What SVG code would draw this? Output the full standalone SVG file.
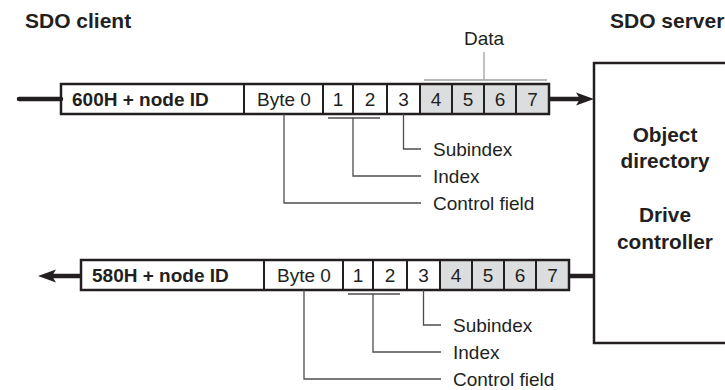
<svg xmlns="http://www.w3.org/2000/svg" width="725" height="390" viewBox="0 0 725 390">
<style>
.b{font-family:"Liberation Sans",Arial,sans-serif;font-weight:bold;font-size:19px;fill:#231f20}
.h{font-size:21px}
.s{font-size:20.8px}
.r{font-family:"Liberation Sans",Arial,sans-serif;font-size:19px;fill:#231f20}
.m{text-anchor:middle}
.frame{fill:none;stroke:#231f20;stroke-width:2.5}
.div{stroke:#231f20;stroke-width:2}
.data{fill:#dcdddf}
.call{fill:none;stroke:#4d4d4d;stroke-width:1.3}
.bus{fill:none;stroke:#231f20;stroke-width:4.5}
.head{fill:#231f20}
</style>
<rect width="725" height="390" fill="#ffffff"/>
<g id="client-label"><text class="b h" x="25" y="28">SDO client</text></g>
<g id="server-label"><text class="b h" x="610" y="28">SDO server</text></g>
<g id="server">
<path class="frame" d="M730 63H594V343H730"/>
<text class="b s m" x="665" y="142">Object</text>
<text class="b s m" x="665" y="168">directory</text>
<text class="b s m" x="665" y="222">Drive</text>
<text class="b s m" x="665" y="249">controller</text>
</g>
<g id="request-frame">
<rect class="data" x="420" y="84" width="129" height="30"/>
<rect class="frame" x="61" y="84" width="488" height="30"/>
<path class="div" d="M244 84V114M323 84V114M353 84V114M387 84V114M420 84V114M452 84V114M484 84V114M516 84V114"/>
<text class="b" x="72" y="106">600H + node ID</text>
<text class="r m" x="284" y="106">Byte 0</text>
<text class="r m" x="338" y="106">1</text>
<text class="r m" x="370" y="106">2</text>
<text class="r m" x="403.5" y="106">3</text>
<text class="r m" x="436" y="106">4</text>
<text class="r m" x="468" y="106">5</text>
<text class="r m" x="500" y="106">6</text>
<text class="r m" x="532.5" y="106">7</text>
</g>
<g id="response-frame">
<rect class="data" x="440" y="260" width="129" height="30"/>
<rect class="frame" x="81" y="260" width="488" height="30"/>
<path class="div" d="M264 260V290M343 260V290M373 260V290M407 260V290M440 260V290M472 260V290M504 260V290M536 260V290"/>
<text class="b" x="92" y="282">580H + node ID</text>
<text class="r m" x="304" y="282">Byte 0</text>
<text class="r m" x="358" y="282">1</text>
<text class="r m" x="390" y="282">2</text>
<text class="r m" x="423.5" y="282">3</text>
<text class="r m" x="456" y="282">4</text>
<text class="r m" x="488" y="282">5</text>
<text class="r m" x="520" y="282">6</text>
<text class="r m" x="552.5" y="282">7</text>
</g>
<g id="request-labels">
<text class="r m" x="484" y="45">Data</text>
<text class="r" x="433" y="156">Subindex</text>
<text class="r" x="433" y="183">Index</text>
<text class="r" x="433" y="210">Control field</text>
</g>
<g id="response-labels">
<text class="r" x="453" y="332">Subindex</text>
<text class="r" x="453" y="359">Index</text>
<text class="r" x="453" y="386">Control field</text>
</g>
<g id="connectors">
<path class="call" d="M424 80H547M484 52V80" style="stroke:#a0a0a0"/>
<path class="call" d="M403.5 114V149H421"/>
<path class="call" d="M328 118H380M353 118V176H421"/>
<path class="call" d="M284 114V203H421"/>
<path class="call" d="M423.5 290V325H441"/>
<path class="call" d="M348 294H400M373 294V352H441"/>
<path class="call" d="M304 290V379H441"/>
<path class="bus" d="M19 99H61" stroke-linecap="round"/>
<path class="bus" d="M549 99H582"/>
<path class="head" d="M594 99L576 92.5L580 99L576 105.5Z"/>
<path class="bus" d="M569 276H594"/>
<path class="bus" d="M81 276H50"/>
<path class="head" d="M38 276L56 269.5L52 276L56 282.5Z"/>
</g>
</svg>
